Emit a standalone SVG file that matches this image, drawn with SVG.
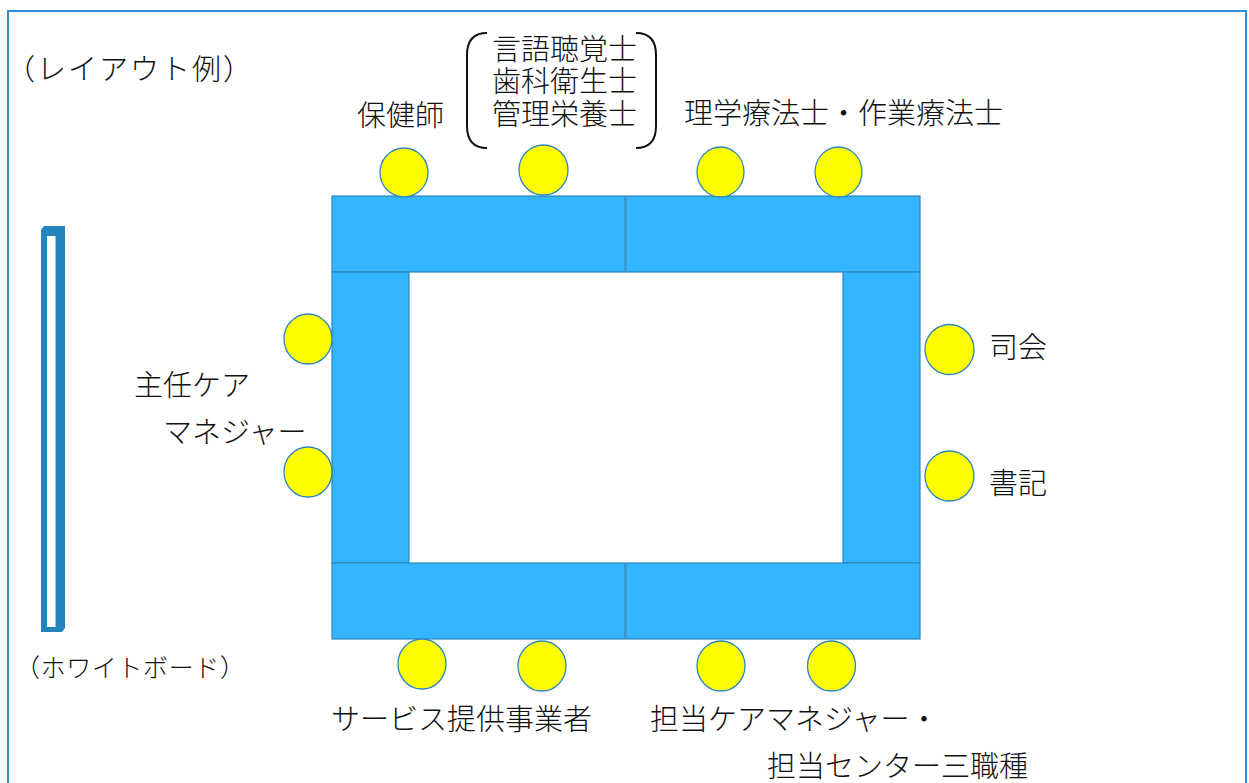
<svg xmlns="http://www.w3.org/2000/svg" width="1249" height="783" viewBox="0 0 1249 783">
<style>
text{font-family:"Noto Sans CJK JP","Noto Sans",sans-serif;font-weight:300;fill:#111;font-size:29px}
.tbl{fill:#33B5FF;stroke:#2A88BF;stroke-width:1.2}
.seat{fill:#FFFF00;stroke:#2E86C1;stroke-width:1.3}
</style>
<rect x="0" y="0" width="1249" height="783" fill="#fff"/>
<path d="M8,790 L8,11 L1246,11 L1246,790" fill="none" stroke="#2F8ECC" stroke-width="2"/>
<text x="6" y="80" textLength="246" lengthAdjust="spacing">（レイアウト例）</text>

<g id="whiteboard">
<path d="M44,226 L65,226 L65,628 L62,632 L41,632 L41,230 Z" fill="#2285BE"/>
<rect x="47" y="236" width="8.5" height="391" fill="#fff"/>
<text x="15" y="677" style="font-size:25px" textLength="230" lengthAdjust="spacing">（ホワイトボード）</text>
</g>

<g id="tables">
<rect id="t-top-left" class="tbl" x="332" y="196" width="293" height="76"/>
<rect id="t-top-right" class="tbl" x="626" y="196" width="294" height="76"/>
<rect id="t-left" class="tbl" x="332" y="272" width="77" height="291"/>
<rect id="t-right" class="tbl" x="843" y="272" width="77" height="291"/>
<rect id="t-bottom-left" class="tbl" x="332" y="563" width="293" height="76"/>
<rect id="t-bottom-right" class="tbl" x="626" y="563" width="294" height="76"/>
</g>

<g id="seats-top">
<ellipse class="seat" cx="404" cy="172.5" rx="24" ry="24.5"/>
<ellipse class="seat" cx="543.5" cy="170" rx="24.5" ry="25"/>
<ellipse class="seat" cx="720.5" cy="172" rx="23.5" ry="25"/>
<ellipse class="seat" cx="838.5" cy="172" rx="23.5" ry="25"/>
</g>
<g id="seats-left">
<ellipse class="seat" cx="308" cy="339" rx="24" ry="25"/>
<ellipse class="seat" cx="308" cy="472" rx="24" ry="25"/>
</g>
<g id="seats-right">
<ellipse class="seat" cx="949.5" cy="349.5" rx="24.5" ry="25"/>
<ellipse class="seat" cx="949.5" cy="476" rx="24.5" ry="25"/>
</g>
<g id="seats-bottom">
<ellipse class="seat" cx="422" cy="664" rx="24" ry="25"/>
<ellipse class="seat" cx="542" cy="666" rx="24" ry="25"/>
<ellipse class="seat" cx="721" cy="666" rx="24" ry="25"/>
<ellipse class="seat" cx="831.5" cy="666" rx="24" ry="25"/>
</g>

<g id="label-hokenshi"><text x="357" y="126">保健師</text></g>
<g id="label-group">
<path d="M487,33 Q467,33 467,55 L467,126 Q467,148 487,148" fill="none" stroke="#111" stroke-width="2"/>
<path d="M636,33 Q656,33 656,55 L656,126 Q656,148 636,148" fill="none" stroke="#111" stroke-width="2"/>
<text x="492" y="60"><tspan x="492" y="60">言語聴覚士</tspan><tspan x="492" y="92">歯科衛生士</tspan><tspan x="492" y="125">管理栄養士</tspan></text>
</g>
<g id="label-pt"><text x="684" y="124">理学療法士・作業療法士</text></g>
<g id="label-shunin">
<text x="134" y="396">主任ケア</text>
<text x="163" y="443">マネジャー</text>
</g>
<g id="label-shikai"><text x="989" y="358">司会</text></g>
<g id="label-shoki"><text x="989" y="494">書記</text></g>
<g id="label-service"><text x="331" y="730">サービス提供事業者</text></g>
<g id="label-tanto">
<text x="650" y="730">担当ケアマネジャー・</text>
<text x="767" y="777">担当センター三職種</text>
</g>
</svg>
